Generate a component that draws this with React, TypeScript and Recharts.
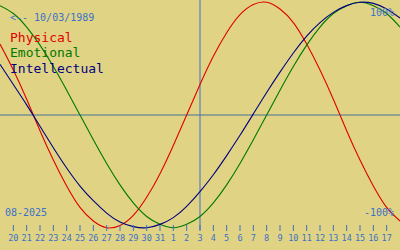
import { LineChart, Line, XAxis, YAxis, ReferenceLine } from "recharts";

// days shown, 19 Aug -> 18 Sep 2025
const DAYS = [
  "19", "20", "21", "22", "23", "24", "25", "26", "27", "28", "29", "30", "31",
  "1", "2", "3", "4", "5", "6", "7", "8", "9", "10", "11", "12", "13", "14", "15", "16", "17", "18",
];
const PHYSICAL = [
  63, 40, 14, -14, -40, -63, -82, -94, -100, -98, -89, -73, -52, -27, 0, 27,
  52, 73, 89, 98, 100, 94, 82, 63, 40, 14, -14, -40, -63, -82, -94,
];
const EMOTIONAL = [
  97, 90, 78, 62, 43, 22, 0, -22, -43, -62, -78, -90, -97, -100, -97, -90,
  -78, -62, -43, -22, 0, 22, 43, 62, 78, 90, 97, 100, 97, 90, 78,
];
const INTELLECTUAL = [
  45, 27, 9, -10, -29, -47, -63, -76, -87, -95, -99, -100, -97, -91, -81, -68,
  -53, -36, -18, 1, 20, 38, 55, 70, 82, 91, 97, 100, 99, 94, 86,
];
const TODAY = "3";
const BIRTH = "10/03/1989";
const MONTH = "08-2025";

const BG = "#e0d484";
const BLUE = "#3c70c8";
const MONO = "'DejaVu Sans Mono', monospace";

const data = DAYS.map((day, i) => ({
  i,
  day,
  physical: PHYSICAL[i],
  emotional: EMOTIONAL[i],
  intellectual: INTELLECTUAL[i],
}));

const tickIdx = DAYS.map((_, i) => i).slice(1, -1);

const DayTick = ({ x, y, payload }: any) => (
  <g>
    <line x1={x} x2={x} y1={y - 5} y2={y + 1} stroke={BLUE} />
    <text x={x} y={y + 11} textAnchor="middle" fontSize={8.5} fontFamily={MONO} fill={BLUE}>
      {DAYS[payload.value]}
    </text>
  </g>
);

export default function App() {
  return (
    <div style={{ position: "relative", width: 400, height: 250, background: BG }}>
      <style>{`body{margin:0}`}</style>
      <LineChart width={400} height={250} data={data} margin={{ top: 0, right: 0, bottom: 0, left: 0 }}>
        <XAxis
          type="number"
          dataKey="i"
          domain={[0, DAYS.length - 1]}
          ticks={tickIdx}
          interval={0}
          height={20}
          axisLine={false}
          tickLine={false}
          tickSize={0}
          tickMargin={0}
          tick={<DayTick />}
        />
        <YAxis hide domain={[-102, 102]} />
        <ReferenceLine y={0} stroke="#45709a" />
        <ReferenceLine x={DAYS.indexOf(TODAY)} stroke={BLUE} />
        <Line type="natural" dataKey="physical" stroke="#e00000" strokeWidth={1.1} dot={false} activeDot={false} isAnimationActive={false} />
        <Line type="natural" dataKey="emotional" stroke="#007800" strokeWidth={1.1} dot={false} activeDot={false} isAnimationActive={false} />
        <Line type="natural" dataKey="intellectual" stroke="#000080" strokeWidth={1.1} dot={false} activeDot={false} isAnimationActive={false} />
      </LineChart>

      <svg width={400} height={250} style={{ position: "absolute", left: 0, top: 0, pointerEvents: "none" }}>
        <g fontFamily={MONO}>
          <text x={10} y={21} fontSize={10} fill={BLUE}>{`<-- ${BIRTH}`}</text>
          <text x={10} y={42} fontSize={13} fill="#e00000">Physical</text>
          <text x={10} y={57} fontSize={13} fill="#007800">Emotional</text>
          <text x={10} y={73} fontSize={13} fill="#000080">Intellectual</text>
          <text x={394} y={16} fontSize={10} fill={BLUE} textAnchor="end">100%</text>
          <text x={394} y={216} fontSize={10} fill={BLUE} textAnchor="end">-100%</text>
          <text x={5} y={216} fontSize={10} fill={BLUE}>{MONTH}</text>
        </g>
      </svg>
    </div>
  );
}
